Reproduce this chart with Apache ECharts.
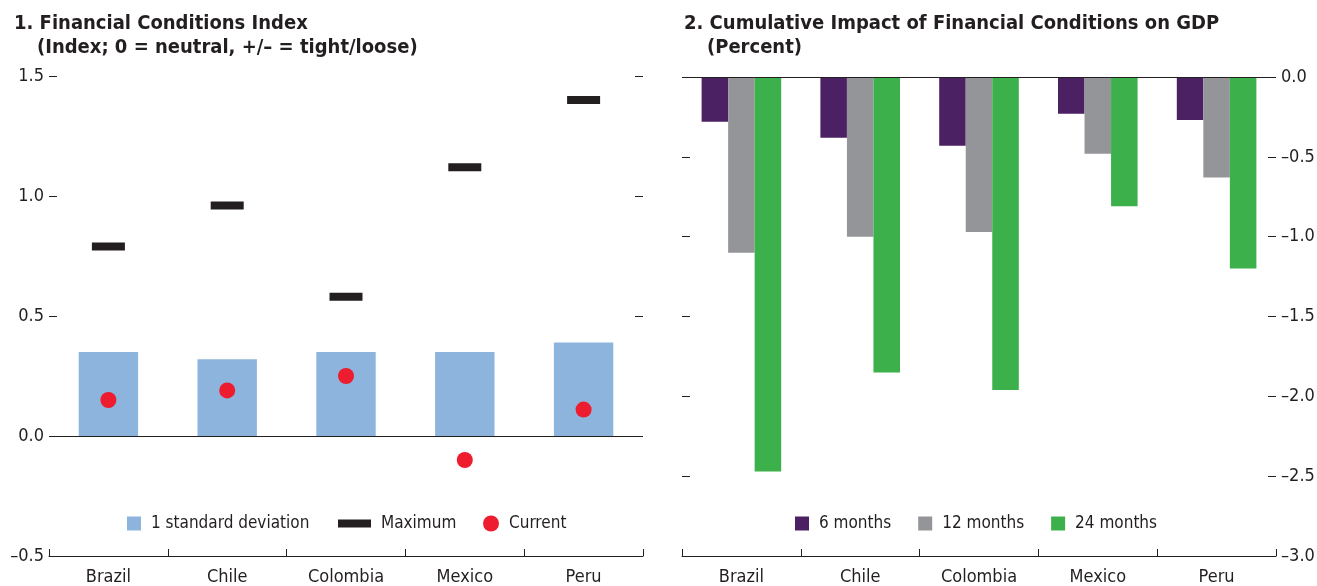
<!DOCTYPE html>
<html lang="en">
<head>
    <meta charset="UTF-8"/>
    <title>Financial Conditions</title>
    <style>
        * {
            padding: 0;
            margin: 0;
        }

        body {
            background-color: white;
        }

        #chart {
            width: 1317px;
            height: 586px;
        }
    </style>
    <script src="https://cdn.jsdelivr.net/npm/echarts@6/dist/echarts.min.js"></script>
</head>
<body>
<div id="chart"></div>
</body>
<script>
    const countries = ['Brazil', 'Chile', 'Colombia', 'Mexico', 'Peru']

    // panel 1
    const stdDev = [0.35, 0.32, 0.35, 0.35, 0.39]
    const maximum = [0.79, 0.96, 0.58, 1.12, 1.40]
    const current = [0.15, 0.19, 0.25, -0.10, 0.11]

    // panel 2
    const months6 = [-0.28, -0.38, -0.43, -0.23, -0.27]
    const months12 = [-1.10, -1.00, -0.97, -0.48, -0.63]
    const months24 = [-2.47, -1.85, -1.96, -0.81, -1.20]

    const font = "'Liberation Sans Narrow', 'DejaVu Sans Condensed', 'Roboto', sans-serif"
    const ink = '#231F20'

    const dash = v => String(v.toFixed(1)).replace('-', '\u2013')

    const chart = echarts.init(document.getElementById('chart'))

    const titleStyle = {fontFamily: font, fontSize: 20, fontWeight: 'bold', color: ink}

    function yAxisBase(gridIndex, min, max, position, showLabel) {
        return {
            type: 'value',
            gridIndex: gridIndex,
            min: min,
            max: max,
            interval: 0.5,
            position: position,
            axisLine: {show: false},
            axisTick: {show: true, inside: true, length: 8, lineStyle: {color: ink, width: 1}},
            splitLine: {show: false},
            axisLabel: {
                show: showLabel,
                formatter: dash,
                fontFamily: font,
                fontSize: 18,
                color: ink,
                margin: 5
            }
        }
    }

    function xAxisBase(gridIndex) {
        return {
            type: 'category',
            gridIndex: gridIndex,
            data: countries,
            position: 'bottom',
            axisLine: {onZero: false, lineStyle: {color: ink, width: 1}},
            axisTick: {show: true, inside: true, length: 7, lineStyle: {color: ink}},
            axisLabel: {fontFamily: font, fontSize: 18, color: ink, margin: 12}
        }
    }

    const zeroLine = {
        silent: true,
        symbol: 'none',
        label: {show: false},
        lineStyle: {color: ink, width: 1, type: 'solid'},
        data: [{yAxis: 0}]
    }

    const legendText = {fontFamily: font, fontSize: 17, color: ink, padding: [0, 0, 0, 5]}

    chart.setOption({
        animation: false,
        title: [
            {text: '1. Financial Conditions Index', left: 9, top: 9, textStyle: titleStyle},
            {text: '(Index; 0 = neutral, +/\u2013 = tight/loose)', left: 32, top: 33, textStyle: titleStyle},
            {text: '2. Cumulative Impact of Financial Conditions on GDP', left: 679, top: 9, textStyle: titleStyle},
            {text: '(Percent)', left: 702, top: 33, textStyle: titleStyle}
        ],
        legend: [
            {
                left: 122, top: 510, itemWidth: 14, itemHeight: 14,
                data: [{name: '1 standard deviation', icon: 'rect'}],
                textStyle: legendText
            },
            {
                left: 333, top: 510, itemWidth: 33, itemHeight: 8,
                data: [{name: 'Maximum', icon: 'rect'}],
                textStyle: legendText
            },
            {
                left: 478, top: 510, itemWidth: 16, itemHeight: 16,
                data: [{name: 'Current', icon: 'circle'}],
                textStyle: legendText
            },
            {
                left: 790, top: 510, itemWidth: 14, itemHeight: 14, itemGap: 27,
                data: [
                    {name: '6 months', icon: 'rect'},
                    {name: '12 months', icon: 'rect'},
                    {name: '24 months', icon: 'rect'}
                ],
                textStyle: legendText
            }
        ],
        grid: [
            {left: 49, right: 674, top: 76, bottom: 30, outerBoundsMode: 'none'},
            {left: 682, right: 41, top: 77, bottom: 30, outerBoundsMode: 'none'}
        ],
        xAxis: [xAxisBase(0), xAxisBase(1)],
        yAxis: [
            yAxisBase(0, -0.5, 1.5, 'left', true),
            yAxisBase(0, -0.5, 1.5, 'right', false),
            yAxisBase(1, -3, 0, 'right', true),
            yAxisBase(1, -3, 0, 'left', false)
        ],
        series: [
            {
                name: '1 standard deviation',
                type: 'bar',
                xAxisIndex: 0,
                yAxisIndex: 0,
                data: stdDev,
                barWidth: '50%',
                itemStyle: {color: '#8DB4DC'},
                markLine: zeroLine
            },
            {
                name: 'Maximum',
                type: 'scatter',
                xAxisIndex: 0,
                yAxisIndex: 0,
                data: maximum,
                symbol: 'rect',
                symbolSize: [33, 8],
                itemStyle: {color: ink, opacity: 1},
                z: 5
            },
            {
                name: 'Current',
                type: 'scatter',
                xAxisIndex: 0,
                yAxisIndex: 0,
                data: current,
                symbol: 'circle',
                symbolSize: 16,
                itemStyle: {color: '#ED1C2E', opacity: 1},
                z: 6
            },
            {
                name: '6 months',
                type: 'bar',
                xAxisIndex: 1,
                yAxisIndex: 2,
                data: months6,
                barGap: '0%',
                barCategoryGap: '33%',
                itemStyle: {color: '#4B2163'},
                markLine: zeroLine
            },
            {
                name: '12 months',
                type: 'bar',
                xAxisIndex: 1,
                yAxisIndex: 2,
                data: months12,
                barGap: '0%',
                barCategoryGap: '33%',
                itemStyle: {color: '#939598'}
            },
            {
                name: '24 months',
                type: 'bar',
                xAxisIndex: 1,
                yAxisIndex: 2,
                data: months24,
                barGap: '0%',
                barCategoryGap: '33%',
                itemStyle: {color: '#3CB04B'}
            }
        ]
    })
</script>
</html>
